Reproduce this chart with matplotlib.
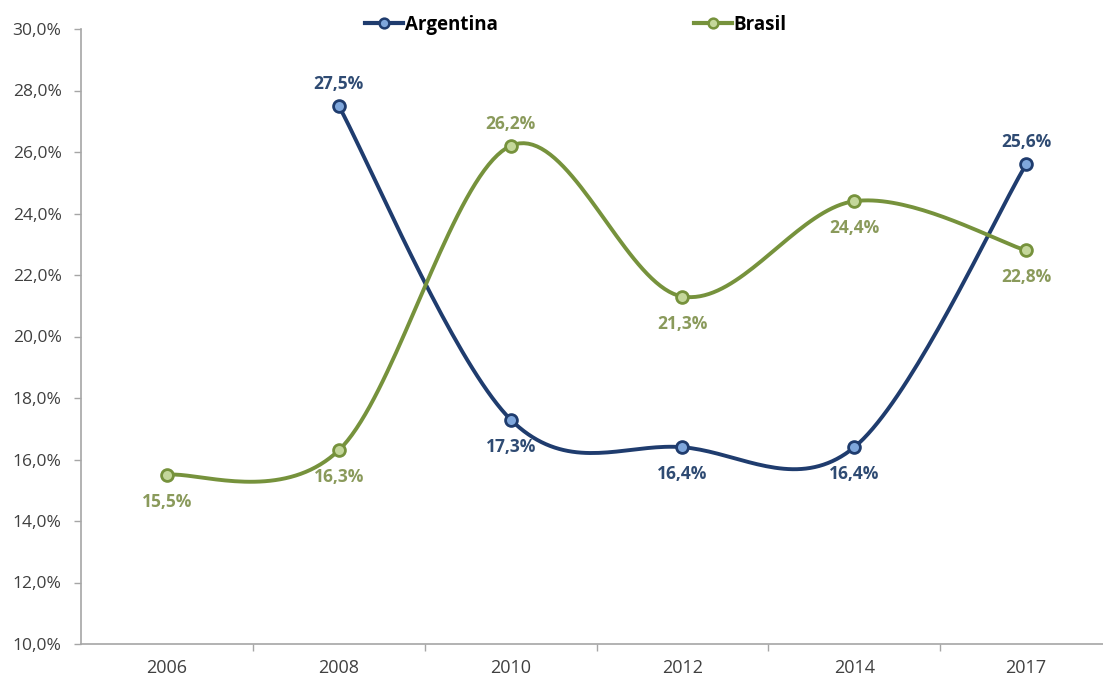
import numpy as np
import matplotlib.pyplot as plt
from matplotlib.lines import Line2D
from matplotlib.ticker import FuncFormatter, FixedLocator

years = ["2006", "2008", "2010", "2012", "2014", "2017"]
argentina = [None, 27.5, 17.3, 16.4, 16.4, 25.6]
brasil = [15.5, 16.3, 26.2, 21.3, 24.4, 22.8]

arg_label_pos = [None, "above", "below", "below", "below", "above"]
bra_label_pos = ["below", "below", "above", "below", "below", "below"]


def smooth(xs, ys, n=40):
    # spline through points built from cubic bezier segments (catmull-rom style)
    pts = np.column_stack([xs, ys]).astype(float)
    out = []
    for i in range(len(pts) - 1):
        p0 = pts[i - 1] if i > 0 else pts[i]
        p1 = pts[i]
        p2 = pts[i + 1]
        p3 = pts[i + 2] if i + 2 < len(pts) else pts[i + 1]
        c1 = p1 + (p2 - p0) / 6
        c2 = p2 - (p3 - p1) / 6
        t = np.linspace(0, 1, n)[:, None]
        seg = ((1 - t) ** 3 * p1 + 3 * (1 - t) ** 2 * t * c1
               + 3 * (1 - t) * t ** 2 * c2 + t ** 3 * p2)
        out.append(seg if i == 0 else seg[1:])
    seg = np.vstack(out)
    return seg[:, 0], seg[:, 1]


plt.rcParams["font.family"] = ["Open Sans", "DejaVu Sans"]

fig = plt.figure(figsize=(11.03, 6.78), dpi=100)
ax = fig.add_axes([81 / 1103, 34 / 678, 1022 / 1103, 615 / 678])

series = [
    ("Argentina", argentina, arg_label_pos, "#1F3C6E", "#7FA7DC", "#2F4B73"),
    ("Brasil", brasil, bra_label_pos, "#76923C", "#C4D79B", "#8A9A5B"),
]

handles = []
for name, vals, pos, line_c, face_c, text_c in series:
    idx = [i for i, v in enumerate(vals) if v is not None]
    xs = np.array(idx, dtype=float)
    ys = np.array([vals[i] for i in idx])
    sx, sy = smooth(xs, ys)
    ax.plot(sx, sy, color=line_c, lw=2.8, solid_capstyle="round", zorder=3)
    ax.plot(xs, ys, ls="none", marker="o", ms=8.5, mfc=face_c, mec=line_c,
            mew=2, zorder=4)
    for x, y in zip(xs, ys):
        where = pos[int(x)]
        off = 16 if where == "above" else -19.5
        ax.annotate(f"{y:.1f}%".replace(".", ","), (x, y),
                    xytext=(0, off), textcoords="offset points",
                    ha="center", va="center", fontsize=12.5,
                    fontweight="bold", color=text_c, zorder=5)
    handles.append(Line2D([], [], color=line_c, lw=3, marker="o", ms=7,
                          mfc=face_c, mec=line_c, mew=1.8, label=name))

ax.set_xlim(-0.5, 5.447)
ax.set_ylim(10, 30)
ax.set_yticks(np.arange(10, 31, 2))
ax.yaxis.set_major_formatter(
    FuncFormatter(lambda v, p: f"{v:.1f}%".replace(".", ",")))

ax.set_xticks(range(len(years)))
ax.set_xticklabels(years)
ax.xaxis.set_minor_locator(FixedLocator(np.arange(0.5, 5, 1)))
ax.tick_params(axis="x", which="major", length=0, pad=11,
               labelsize=13, labelcolor="#404040")
ax.tick_params(axis="x", which="minor", length=5, width=1, color="#A6A6A6")
ax.tick_params(axis="y", length=5, width=1, color="#A6A6A6", pad=9,
               labelsize=12.5, labelcolor="#404040")

for s in ["top", "right"]:
    ax.spines[s].set_visible(False)
for s in ["left", "bottom"]:
    ax.spines[s].set_color("#A6A6A6")
    ax.spines[s].set_linewidth(1.2)

fig.legend(handles=handles, loc="center", bbox_to_anchor=(576 / 1103, 1 - 25 / 678),
           ncol=2, frameon=False, handlelength=2.0, handletextpad=0.1,
           columnspacing=10.5, prop={"weight": "bold", "size": 13.5})

fig.savefig("out.png", dpi=100)
